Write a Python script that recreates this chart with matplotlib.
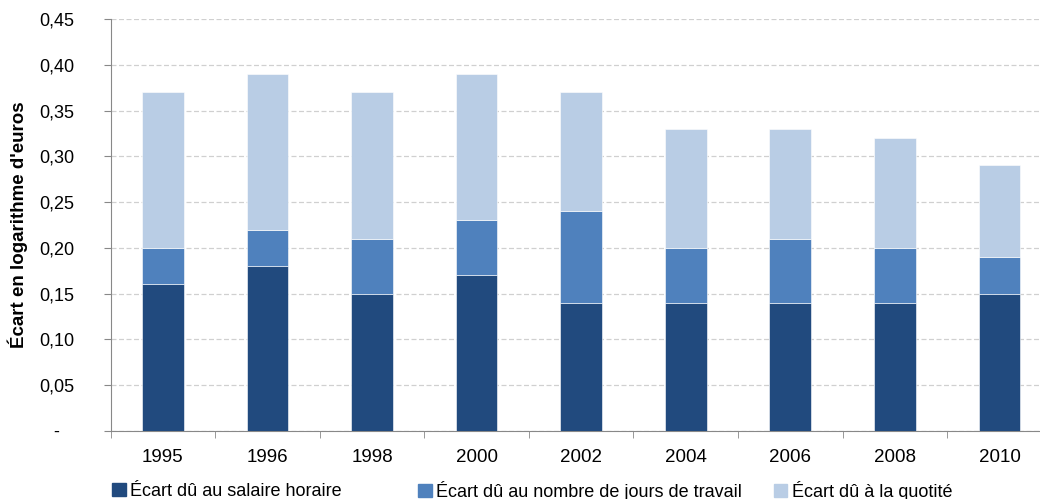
import matplotlib.pyplot as plt
from matplotlib.patches import Patch
import numpy as np

years = ['1995', '1996', '1998', '2000', '2002', '2004', '2006', '2008', '2010']
salaire = [0.16, 0.18, 0.15, 0.17, 0.14, 0.14, 0.14, 0.14, 0.15]
jours = [0.04, 0.04, 0.06, 0.06, 0.10, 0.06, 0.07, 0.06, 0.04]
quotite = [0.17, 0.17, 0.16, 0.16, 0.13, 0.13, 0.12, 0.12, 0.10]
labels = ["Écart dû au salaire horaire",
          "Écart dû au nombre de jours de travail",
          "Écart dû à la quotité"]
colors = ['#214A7E', '#4F81BD', '#B9CDE5']

plt.rcParams['font.family'] = ['Liberation Sans', 'DejaVu Sans']

fig = plt.figure(figsize=(10.4, 4.99), dpi=100)
# plot area runs slightly past the right edge, as in the source
ax = fig.add_axes([0.1063, 0.1363, 0.905, 0.8257])

x = np.arange(len(years))
w = 0.40
bottom = np.zeros(len(years))
for vals, lab, c in zip([salaire, jours, quotite], labels, colors):
    ax.bar(x, vals, w, bottom=bottom, color=c, label=lab,
           edgecolor='white', linewidth=0.4, zorder=3)
    bottom += np.array(vals)

ax.set_xlim(-0.5, len(years) - 0.5)
ax.set_ylim(0, 0.45)
yt = np.arange(0, 0.451, 0.05)
ax.set_yticks(yt)
ax.set_yticklabels([('%.2f' % v).replace('.', ',') if v > 0 else '-   ' for v in yt])
ax.yaxis.grid(True, color='#D0D0D0', linestyle=(0, (4, 2)), linewidth=0.9, zorder=0)

ax.set_xticks(x)
ax.set_xticklabels(years)
ax.set_xticks(np.arange(len(years) + 1) - 0.5, minor=True)
ax.tick_params(axis='x', which='major', length=0, pad=13, labelsize=13.5)
ax.tick_params(axis='x', which='minor', length=5, direction='out', color='#888888')
ax.tick_params(axis='y', length=5, color='#888888', labelsize=13, pad=21)

for s in ['top', 'right']:
    ax.spines[s].set_visible(False)
ax.spines['left'].set_color('#888888')
ax.spines['bottom'].set_color('#888888')

ax.set_ylabel("Écart en logarithme d'euros", fontsize=13.5, fontweight='bold', labelpad=8)

# Legend entries are not evenly spaced in the source, so place each one
for lab, c, xpos in zip(labels, colors, [0.108, 0.402, 0.744]):
    leg = fig.legend(handles=[Patch(color=c, label=lab)], loc='center left',
                     bbox_to_anchor=(xpos, 0.016), frameon=False, fontsize=13,
                     handlelength=0.75, handleheight=0.75, handletextpad=0.25,
                     borderaxespad=0, borderpad=0)

fig.savefig('out.png', dpi=100)
